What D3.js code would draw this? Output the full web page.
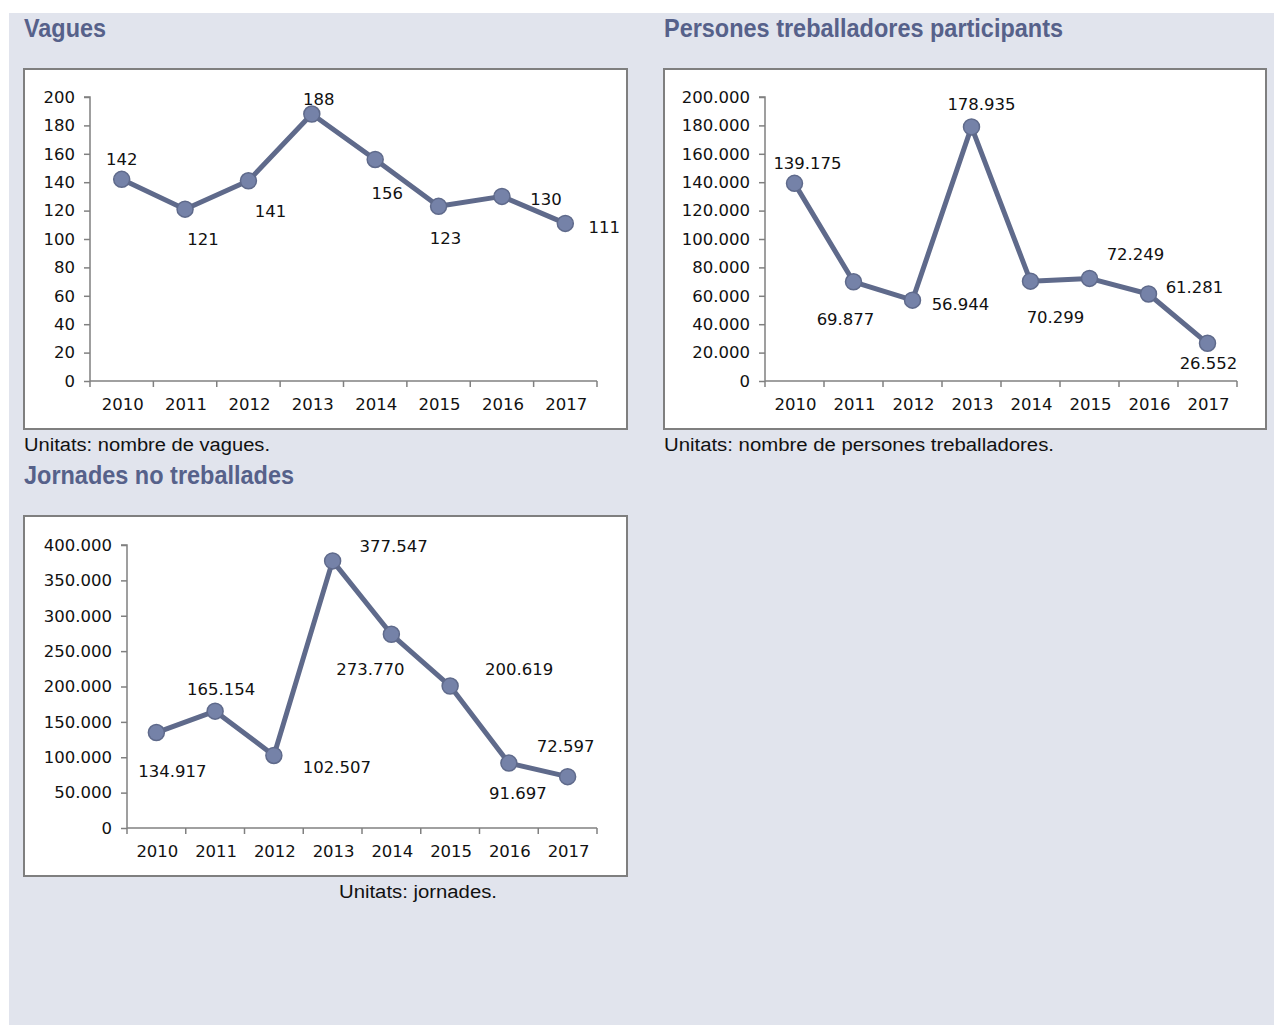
<!DOCTYPE html>
<html><head><meta charset="utf-8">
<script src="https://cdn.jsdelivr.net/npm/d3@7"></script>
<style>
html,body{margin:0;padding:0;background:#fff;}
svg{display:block;}
</style></head>
<body>
<svg id="c" width="1274" height="1025"></svg>
<script>
// ---- data ----
const years = ["2010","2011","2012","2013","2014","2015","2016","2017"];
const vagues = [142,121,141,188,156,123,130,111];
const persones = [139175,69877,56944,178935,70299,72249,61281,26552];
const jornades = [134917,165154,102507,377547,273770,200619,91697,72597];
const vaguesTicks = [0,20,40,60,80,100,120,140,160,180,200];
const personesTicks = [0,20000,40000,60000,80000,100000,120000,140000,160000,180000,200000];
const jornadesTicks = [0,50000,100000,150000,200000,250000,300000,350000,400000];
const titles = ["Vagues","Persones treballadores participants","Jornades no treballades"];
const units = ["Unitats: nombre de vagues.","Unitats: nombre de persones treballadores.","Unitats: jornades."];

// label placement offsets (layout only)
const vaguesLabelOff = [[0,-20],[18,30],[22,30],[7,-15],[12,34],[7,32],[44,3],[39,4]];
const personesLabelOff = [[13,-20],[-8,37],[48,4],[10,-23],[25,36],[46,-24],[46,-7],[1,20]];
const jornadesLabelOff = [[16,39],[6,-22],[63,12],[61,-15],[-21,35],[69,-17],[9,30],[-2,-31]];

const loc = d3.formatLocale({decimal:",",thousands:".",grouping:[3],currency:["","€"]});
const fmt = loc.format(",");

const svg = d3.select("#c");
const BG = "#e1e4ed", TITLE = "#56618a", LINE = "#5f6a8b", MARK = "#7582a8", AX = "#808080";
const numFont = "DejaVu Sans, sans-serif";
const txtFont = "Liberation Sans Narrow, Arial Narrow, sans-serif";
const NFS = 16.5;

svg.append("rect").attr("x",9).attr("y",13).attr("width",1265).attr("height",1012).attr("fill",BG);

function fitText(sel, w){ sel.attr("textLength", w).attr("lengthAdjust","spacingAndGlyphs"); }

// titles
const tPos = [[24,37,82],[664,37,399],[24,484,270]];
titles.forEach((t,i)=>{
  svg.append("text").attr("x",tPos[i][0]).attr("y",tPos[i][1]).text(t)
    .attr("font-family",txtFont).attr("font-size",25).attr("font-weight","bold").attr("fill",TITLE)
    .call(fitText,tPos[i][2]);
});
// units
const uPos = [[24,451,246],[664,451,390],[339,898,158]];
units.forEach((t,i)=>{
  svg.append("text").attr("x",uPos[i][0]).attr("y",uPos[i][1]).text(t)
    .attr("font-family",txtFont).attr("font-size",18).attr("fill","#111")
    .call(fitText,uPos[i][2]);
});

function chart(cfg){
  const g = svg.append("g");
  g.append("rect").attr("x",cfg.box[0]).attr("y",cfg.box[1]).attr("width",cfg.box[2]).attr("height",cfg.box[3])
    .attr("fill","#fff").attr("stroke","#7f7f7f").attr("stroke-width",2);
  const x = d3.scaleBand().domain(years).range([cfg.left,cfg.right]).padding(0);
  const y = d3.scaleLinear().domain([0,cfg.max]).range([cfg.bottom,cfg.top]);

  // y axis
  const ya = g.append("g").attr("transform",`translate(${cfg.left},0)`)
    .call(d3.axisLeft(y).tickValues(cfg.ticks).tickSize(6).tickPadding(9).tickFormat(fmt));
  ya.select(".domain").attr("stroke",AX).attr("stroke-width",1.5).attr("d",`M-6,${y(cfg.max)}H0V${cfg.bottom}`);
  ya.selectAll(".tick line").attr("stroke",AX).attr("stroke-width",1.5);
  ya.selectAll(".tick text").attr("font-family",numFont).attr("font-size",NFS).attr("fill","#111");

  // x axis
  const xa = g.append("g").attr("transform",`translate(0,${cfg.bottom})`);
  xa.append("path").attr("d",`M${cfg.left},0H${cfg.right}`).attr("stroke",AX).attr("stroke-width",1.5).attr("fill","none");
  const bounds = years.map(d=>x(d)).concat([x(years[years.length-1])+x.bandwidth()]);
  xa.selectAll("line.tk").data(bounds).join("line").attr("class","tk")
    .attr("x1",d=>d).attr("x2",d=>d).attr("y1",0).attr("y2",6).attr("stroke",AX).attr("stroke-width",1.5);
  xa.selectAll("text").data(years).join("text")
    .attr("x",d=>x(d)+x.bandwidth()/2+1).attr("y",29).attr("text-anchor","middle")
    .attr("font-family",numFont).attr("font-size",NFS).attr("fill","#111").text(d=>d);

  const cx = d=>x(d)+x.bandwidth()/2;
  const line = d3.line().x((d,i)=>cx(years[i])).y(d=>y(d));
  g.append("path").datum(cfg.values).attr("d",line).attr("fill","none")
    .attr("stroke",LINE).attr("stroke-width",5).attr("stroke-linejoin","round");
  g.selectAll("circle").data(cfg.values).join("circle")
    .attr("cx",(d,i)=>cx(years[i])).attr("cy",d=>y(d)).attr("r",8)
    .attr("fill",MARK).attr("stroke",LINE).attr("stroke-width",1.5);
  g.selectAll("text.lbl").data(cfg.values).join("text").attr("class","lbl")
    .attr("x",(d,i)=>cx(years[i])+cfg.off[i][0]).attr("y",(d,i)=>y(d)+cfg.off[i][1])
    .attr("dy","0.36em").attr("text-anchor","middle")
    .attr("font-family",numFont).attr("font-size",NFS).attr("fill","#111").text(d=>fmt(d));
}

chart({box:[24,69,603,360],left:90,right:597,top:97,bottom:381,max:200,ticks:vaguesTicks,values:vagues,off:vaguesLabelOff});
chart({box:[664,69,602,360],left:765,right:1237,top:97,bottom:381,max:200000,ticks:personesTicks,values:persones,off:personesLabelOff});
chart({box:[24,516,603,360],left:127,right:597,top:545,bottom:828,max:400000,ticks:jornadesTicks,values:jornades,off:jornadesLabelOff});
</script>
</body></html>
